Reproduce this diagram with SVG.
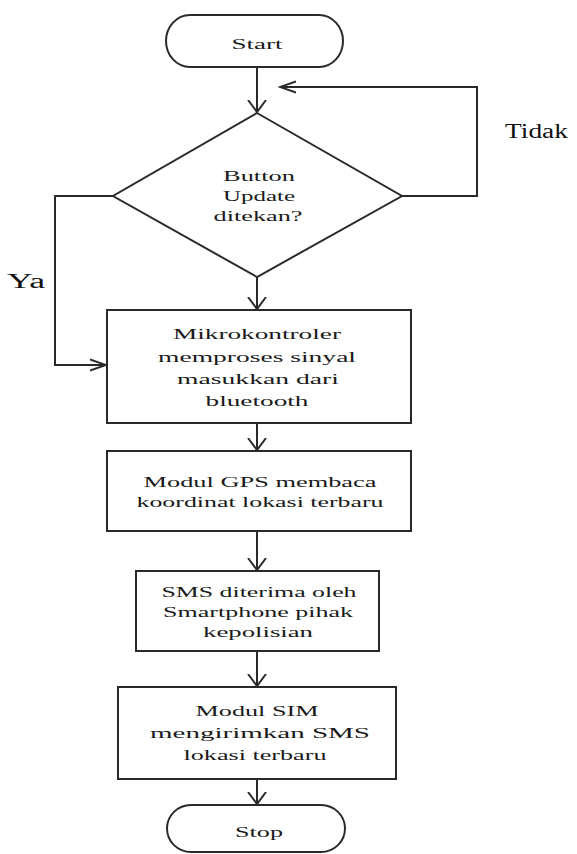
<svg xmlns="http://www.w3.org/2000/svg" width="577" height="854" viewBox="0 0 577 854">
<style>
.shape{fill:#fff;stroke:#2a2a2a;stroke-width:2}
.conn{fill:none;stroke:#2a2a2a;stroke-width:2}
.t{font-family:"Liberation Serif","Times New Roman",serif;font-size:15.5px;fill:#1a1a1a;text-anchor:middle}
.lbl{font-family:"Liberation Serif","Times New Roman",serif;font-size:20px;fill:#111}
</style>
<defs>
<marker id="arrV" markerWidth="14" markerHeight="20" refX="12" refY="10" orient="auto" markerUnits="userSpaceOnUse">
<path d="M0,1 L12,10 L0,19" fill="none" stroke="#2a2a2a" stroke-width="2"/>
</marker>
<marker id="arrH" markerWidth="18" markerHeight="14" refX="16" refY="7" orient="auto" markerUnits="userSpaceOnUse">
<path d="M0,1.5 L16,7 L0,12.5" fill="none" stroke="#2a2a2a" stroke-width="2"/>
</marker>
</defs>
<g id="connectors">
<path class="conn" d="M257,67 L257,112" marker-end="url(#arrV)"/>
<path class="conn" d="M402,196 L477,196 L477,87 L280,87" marker-end="url(#arrH)"/>
<path class="conn" d="M113,196 L55,196 L55,365 L106,365" marker-end="url(#arrH)"/>
<path class="conn" d="M257,277 L257,309" marker-end="url(#arrV)"/>
<path class="conn" d="M257,423 L257,450" marker-end="url(#arrV)"/>
<path class="conn" d="M257,531 L257,570" marker-end="url(#arrV)"/>
<path class="conn" d="M257,651 L257,686" marker-end="url(#arrV)"/>
<path class="conn" d="M257,779 L257,804" marker-end="url(#arrV)"/>
</g>
<g id="start">
<rect class="shape" x="166" y="15" width="177" height="52" rx="24" ry="26"/>
<text class="t" x="257" y="49" textLength="51" lengthAdjust="spacingAndGlyphs">Start</text>
</g>
<g id="decision">
<polygon class="shape" points="257,113 402,196 257,277 113,196"/>
<text class="t" x="259" y="181" textLength="72" lengthAdjust="spacingAndGlyphs">Button</text>
<text class="t" x="259" y="201" textLength="72" lengthAdjust="spacingAndGlyphs">Update</text>
<text class="t" x="258" y="221" textLength="89" lengthAdjust="spacingAndGlyphs">ditekan?</text>
</g>
<g id="label-tidak">
<text class="lbl" x="505" y="138" textLength="63" lengthAdjust="spacingAndGlyphs">Tidak</text>
</g>
<g id="label-ya">
<text class="lbl" x="7" y="288" textLength="38" lengthAdjust="spacingAndGlyphs">Ya</text>
</g>
<g id="proses-mikro">
<rect class="shape" x="107" y="310" width="304" height="113"/>
<text class="t" x="257" y="339" textLength="168" lengthAdjust="spacingAndGlyphs">Mikrokontroler</text>
<text class="t" x="257" y="362" textLength="198" lengthAdjust="spacingAndGlyphs">memproses sinyal</text>
<text class="t" x="258" y="384" textLength="162" lengthAdjust="spacingAndGlyphs">masukkan dari</text>
<text class="t" x="257" y="406" textLength="103" lengthAdjust="spacingAndGlyphs">bluetooth</text>
</g>
<g id="proses-gps">
<rect class="shape" x="107" y="451" width="304" height="80"/>
<text class="t" x="260" y="487" textLength="233" lengthAdjust="spacingAndGlyphs">Modul GPS membaca</text>
<text class="t" x="260" y="507" textLength="247" lengthAdjust="spacingAndGlyphs">koordinat lokasi terbaru</text>
</g>
<g id="proses-sms">
<rect class="shape" x="136" y="571" width="243" height="80"/>
<text class="t" x="259" y="597" textLength="195" lengthAdjust="spacingAndGlyphs">SMS diterima oleh</text>
<text class="t" x="258" y="617" textLength="190" lengthAdjust="spacingAndGlyphs">Smartphone pihak</text>
<text class="t" x="258" y="637" textLength="110" lengthAdjust="spacingAndGlyphs">kepolisian</text>
</g>
<g id="proses-sim">
<rect class="shape" x="118" y="687" width="278" height="92"/>
<text class="t" x="257" y="716" textLength="123" lengthAdjust="spacingAndGlyphs">Modul SIM</text>
<text class="t" x="260" y="738" textLength="220" lengthAdjust="spacingAndGlyphs">mengirimkan SMS</text>
<text class="t" x="255" y="760" textLength="143" lengthAdjust="spacingAndGlyphs">lokasi terbaru</text>
</g>
<g id="stop">
<rect class="shape" x="167" y="805" width="178" height="47" rx="24" ry="23.5"/>
<text class="t" x="259" y="837" textLength="48" lengthAdjust="spacingAndGlyphs">Stop</text>
</g>
</svg>
